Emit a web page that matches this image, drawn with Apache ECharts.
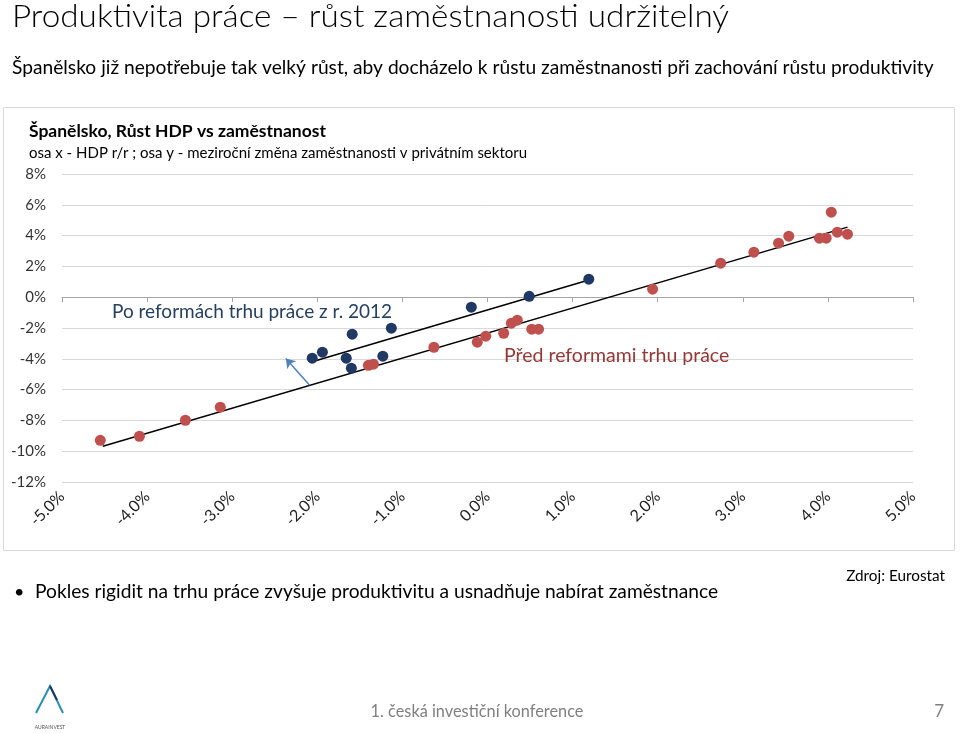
<!DOCTYPE html>
<html><head><meta charset="utf-8">
<script src="https://cdn.jsdelivr.net/npm/echarts@6/dist/echarts.min.js"></script>
<style>html,body{margin:0;padding:0;background:#fff;}#c{width:960px;height:734px;}</style>
</head><body><div id="c"></div>
<script>
// GDP growth (x, %) vs private-sector employment change (y, %)
const beforeReform = [
  [-4.55,-9.29],[-4.09,-9.03],[-3.55,-7.99],[-3.14,-7.14],[-1.40,-4.42],[-1.34,-4.35],
  [-0.63,-3.25],[-0.12,-2.92],[-0.02,-2.53],[0.19,-2.34],[0.28,-1.69],[0.35,-1.49],
  [0.52,-2.08],[0.60,-2.08],[1.94,0.52],[2.74,2.21],[3.13,2.92],[3.42,3.51],[3.54,3.96],
  [3.90,3.83],[3.98,3.83],[4.04,5.52],[4.11,4.22],[4.23,4.09]
];
const afterReform = [
  [-2.06,-3.96],[-1.94,-3.57],[-1.66,-3.96],[-1.60,-4.61],[-1.59,-2.40],[-1.23,-3.83],
  [-1.13,-2.01],[-0.19,-0.65],[0.49,0.06],[1.19,1.17]
];
const beforeTrend = [[-4.52,-9.68],[4.23,4.55]];
const afterTrend = [[-2.04,-4.16],[1.18,1.10]];
const shiftArrow = [[-2.09,-5.71],[-2.37,-3.98]];
const xTicks = {min:-5, max:5, step:1};
const yTicks = {min:-12, max:8, step:2};

const F = 'Lato, "Open Sans", sans-serif';
const chart = echarts.init(document.getElementById('c'), null, {renderer:'canvas'});
function txt(x,y,s,size,color,opt){
  return Object.assign({type:'text', x:x, y:y, z:100,
    style:{text:s, font: (opt&&opt.weight?opt.weight+' ':'') + size+'px '+F, fill:color,
      textAlign:(opt&&opt.align)||'left', textVerticalAlign:'middle'}},
    opt&&opt.scaleX?{scaleX:opt.scaleX}:{});
}
chart.setOption({
  animation:false,
  grid:{left:62, right:47, top:174, bottom:252},
  xAxis:[{
    type:'value', min:xTicks.min, max:xTicks.max, interval:xTicks.step, position:'bottom',
    axisLine:{show:false, onZero:false}, axisTick:{show:false}, splitLine:{show:false},
    axisLabel:{rotate:45, margin:12, color:'#222', fontFamily:F, fontSize:16,
      formatter:v=>v.toFixed(1)+'%'}
  },{
    type:'value', min:xTicks.min, max:xTicks.max, interval:xTicks.step, position:'bottom',
    axisLine:{show:true, onZero:true, lineStyle:{color:'#a6a6a6', width:1}},
    axisTick:{show:true, length:5, lineStyle:{color:'#a6a6a6'}},
    axisLabel:{show:false}, splitLine:{show:false}
  }],
  yAxis:{
    type:'value', min:yTicks.min, max:yTicks.max, interval:yTicks.step,
    axisLine:{show:false}, axisTick:{show:false},
    splitLine:{lineStyle:{color:'#d9d9d9', width:1}},
    axisLabel:{margin:16, color:'#333', fontFamily:F, fontSize:15, formatter:'{value}%'}
  },
  series:[
    {type:'line', data:beforeTrend, symbol:'none', lineStyle:{color:'#000', width:1.5}, z:3},
    {type:'line', data:afterTrend, symbol:'none', lineStyle:{color:'#000', width:1.5}, z:3},
    {type:'lines', coordinateSystem:'cartesian2d', z:4,
      data:[{coords:shiftArrow}], symbol:['none','arrow'], symbolSize:9,
      lineStyle:{color:'#4F81BD', width:1.5, opacity:1}},
    {type:'scatter', data:beforeReform, symbolSize:11, itemStyle:{color:'#C0504D', opacity:1}, z:5},
    {type:'scatter', data:afterReform, symbolSize:11, itemStyle:{color:'#1F3864', opacity:1}, z:5}
  ],
  graphic:[
    {type:'rect', shape:{x:3.5, y:107.5, width:951, height:443}, style:{fill:'none', stroke:'#d9d9d9', lineWidth:1}, z:1},
    txt(12,17,'Produktivita práce – růst zaměstnanosti udržitelný',32,'#000',{weight:300, scaleX:1.04}),
    txt(12,68,'Španělsko již nepotřebuje tak velký růst, aby docházelo k růstu zaměstnanosti při zachování růstu produktivity',19,'#000',{scaleX:1.01}),
    txt(29,131,'Španělsko, Růst HDP vs zaměstnanost',17.5,'#000',{weight:'bold'}),
    txt(29,153,'osa x - HDP r/r ; osa y - meziroční změna zaměstnanosti v privátním sektoru',15,'#000'),
    txt(112,312,'Po reformách trhu práce z r. 2012',19,'#254061'),
    txt(504,356,'Před reformami trhu práce',19.5,'#953735'),
    txt(14,592,'•',18,'#000'),
    txt(35,592,'Pokles rigidit na trhu práce zvyšuje produktivitu a usnadňuje nabírat zaměstnance',19,'#000',{scaleX:1.01}),
    txt(945,576,'Zdroj: Eurostat',15,'#000',{align:'right', scaleX:1.02}),
    txt(477,712,'1. česká investiční konference',17,'#808080',{align:'center', scaleX:0.96}),
    txt(944,712,'7',17,'#808080',{align:'right'}),
    {type:'polyline', shape:{points:[[36,713],[50,686],[63,713]]}, style:{stroke:'#2a8fb0', lineWidth:2, fill:'none'}, z:100},
    {type:'polyline', shape:{points:[[50,686],[57,700]]}, style:{stroke:'#1F3864', lineWidth:2, fill:'none'}, z:101},
    txt(50,727,'AURAINVEST',5,'#555',{align:'center'})
  ]
});
</script></body></html>
